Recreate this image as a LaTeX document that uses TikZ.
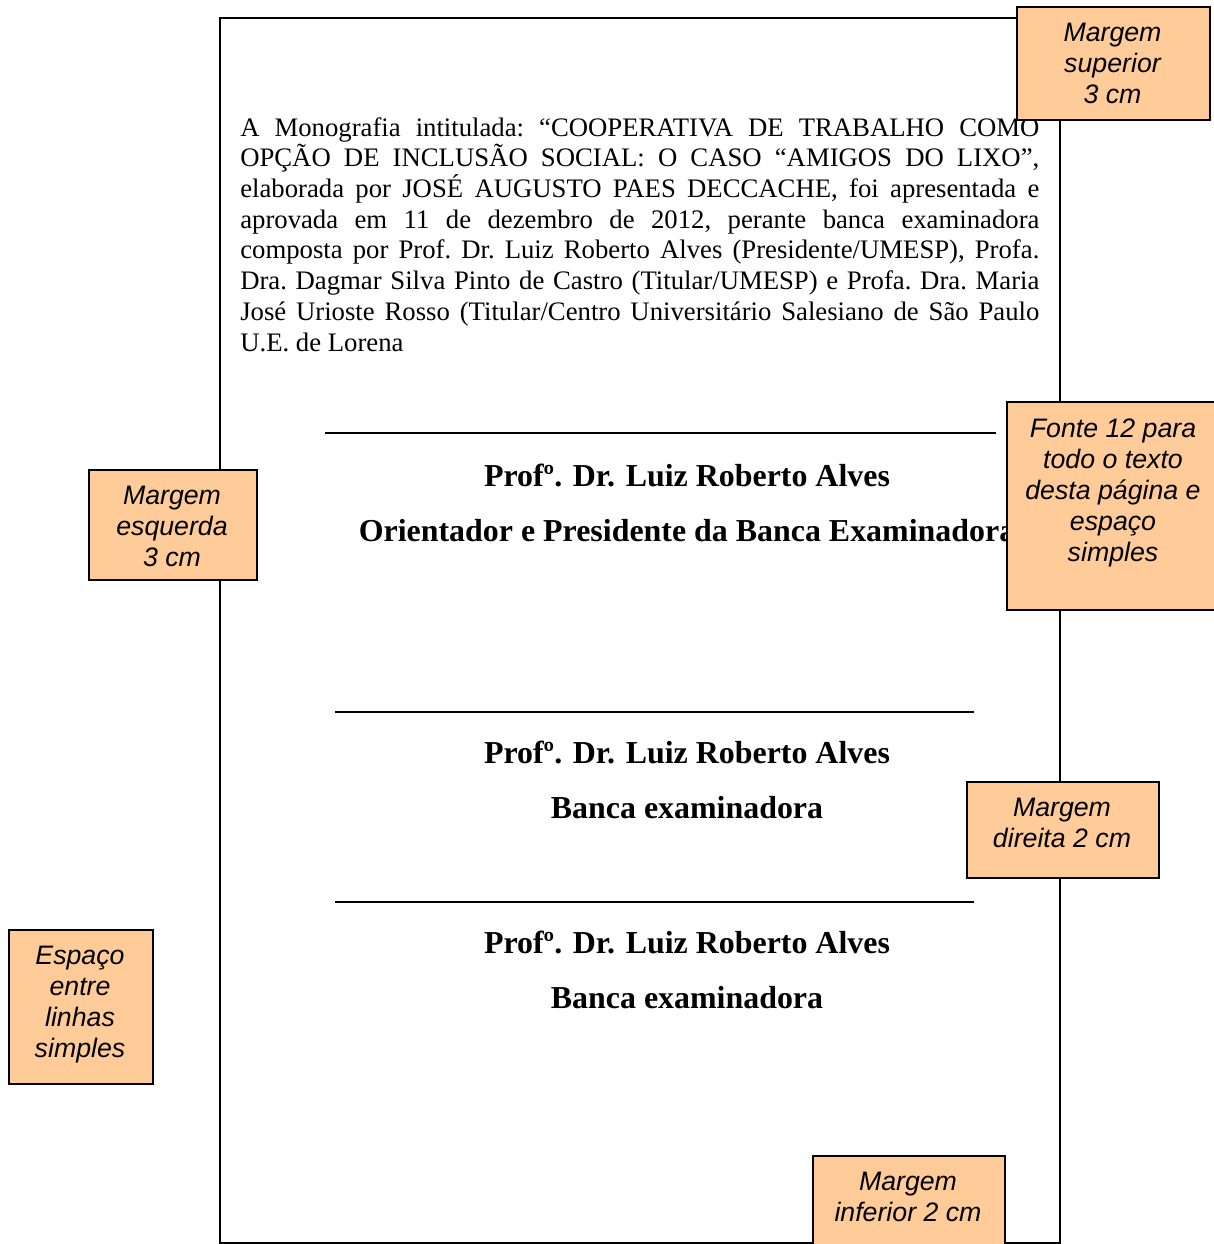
\documentclass[tikz,border=0pt]{standalone}
\usepackage{fontspec}
\setmainfont{Liberation Serif}
\newfontfamily\notafont{Liberation Sans}
\definecolor{pessego}{HTML}{FFCC99}
\newcommand\corpofonte{\fontsize{19}{21.85}\selectfont\frenchspacing\hyphenpenalty=10000\relax}

\begin{document}
\begin{tikzpicture}
	[x=0.025cm,y=-0.025cm,
	every node/.style={inner sep=0pt},
	corpo/.style={font=\corpofonte,text width=568.3pt,align=justify,anchor=base west},
	nome/.style={font=\fontsize{22.7}{26}\selectfont\bfseries,anchor=base},
	nota/.style={draw,line width=1.2pt,fill=pessego,anchor=north west},
	notatxt/.style={font=\notafont\itshape\fontsize{19}{22}\selectfont,align=center,anchor=north}]
	\useasboundingbox (0,0) rectangle (1214,1244);
	\draw [line width=1.4pt] (220,18) rectangle (1060,1243);
	\node [corpo] (texto) at (240,136) {A Monografia intitulada: “COOPERATIVA DE TRABALHO COMO\linebreak
		OPÇÃO DE INCLUSÃO SOCIAL: O CASO “AMIGOS DO LIXO”,\linebreak
		elaborada por JOSÉ AUGUSTO PAES DECCACHE, foi apresentada e\linebreak
		aprovada em 11 de dezembro de 2012, perante banca examinadora\linebreak
		composta por Prof. Dr. Luiz Roberto Alves (Presidente/UMESP), Profa.\linebreak
		Dra. Dagmar Silva Pinto de Castro (Titular/UMESP) e Profa. Dra. Maria\linebreak
		José Urioste Rosso (Titular/Centro Universitário Salesiano de São Paulo\linebreak
		U.E. de Lorena};
	\draw [line width=1.3pt] (325,433) -- (996,433);
	\node [nome] (prof1) at (687,486) {Profº. Dr. Luiz Roberto Alves};
	\node [nome] (orient) at (687,541) {Orientador e Presidente da Banca Examinadora};
	\draw [line width=1.3pt] (335,712) -- (974,712);
	\node [nome] (prof2) at (687,763) {Profº. Dr. Luiz Roberto Alves};
	\node [nome] (banca2) at (687,818) {Banca examinadora};
	\draw [line width=1.3pt] (335,902) -- (974,902);
	\node [nome] (prof3) at (687,953) {Profº. Dr. Luiz Roberto Alves};
	\node [nome] (banca3) at (687,1008) {Banca examinadora};
	\node [nota,minimum width=193*0.025cm,minimum height=113*0.025cm] (sup) at (1016,6) {};
	\node [notatxt] (supT) at (1112.5,23) {Margem\\superior\\3 cm};
	\node [nota,minimum width=208*0.025cm,minimum height=208*0.025cm] (fonte) at (1006,401) {};
	\node [notatxt] (fonteT) at (1113,419) {Fonte 12 para\\todo o texto\\desta página e\\espaço\\simples};
	\node [nota,minimum width=168*0.025cm,minimum height=110*0.025cm] (esq) at (88,469) {};
	\node [notatxt] (esqT) at (172,486) {Margem\\esquerda\\3 cm};
	\node [nota,minimum width=192*0.025cm,minimum height=96*0.025cm] (dir) at (966,781) {};
	\node [notatxt] (dirT) at (1062,798) {Margem\\direita 2 cm};
	\node [nota,minimum width=144*0.025cm,minimum height=154*0.025cm] (esp) at (8,929) {};
	\node [notatxt] (espT) at (80,946) {Espaço\\entre\\linhas\\simples};
	\node [nota,minimum width=192*0.025cm,minimum height=95*0.025cm] (inf) at (812,1155) {};
	\node [notatxt] (infT) at (908,1172) {Margem\\inferior 2 cm};
\end{tikzpicture}
\end{document}
